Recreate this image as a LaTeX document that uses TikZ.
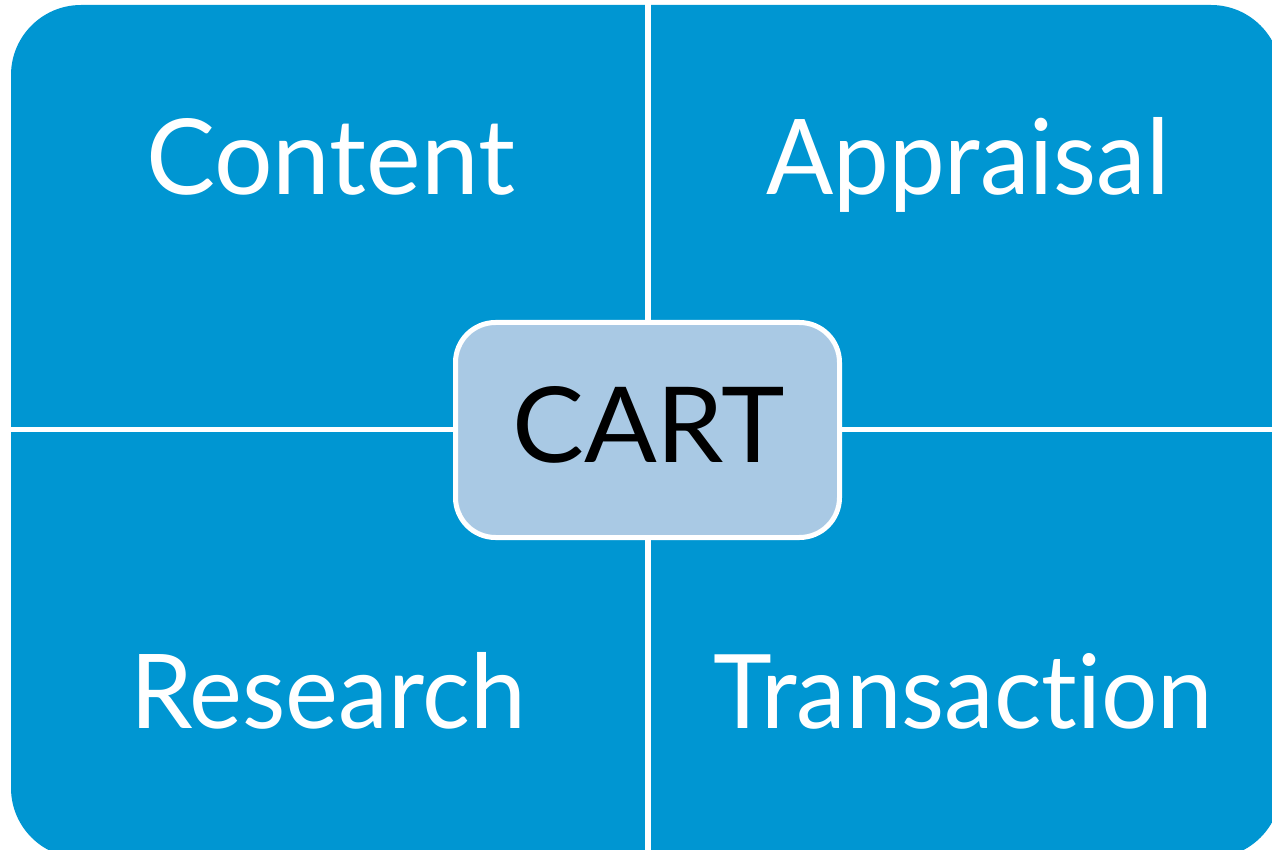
\documentclass[tikz,border=0pt]{standalone}
\usepackage{fontspec}
\setmainfont[Ligatures={NoCommon}]{Lato}
\definecolor{quadblue}{RGB}{0,150,210}
\definecolor{cartfill}{RGB}{169,201,228}
\tikzset{
  quadlabel/.style={anchor=base west, inner sep=0pt, text=white},
  cartbox/.style={draw=white, line width=5pt, fill=cartfill, rounded corners=40pt},
  gapline/.style={draw=white}
}
\begin{document}
\begin{tikzpicture}[x=1pt, y=-1pt]
  \useasboundingbox (0,0) rectangle (1272,850);
  \clip (0,0) rectangle (1272,850);
  \fill[quadblue, rounded corners=70pt] (11,5) rectangle (1281,858);
  \coordinate (vt) at (648,0);
  \coordinate (vb) at (648,850);
  \coordinate (hl) at (0,429.5);
  \coordinate (hr) at (1272,429.5);
  \draw[gapline, line width=6pt] (vt) -- (vb);
  \draw[gapline, line width=5pt] (hl) -- (hr);
  \draw[cartbox] (455.5,322.5) rectangle (839.5,537.5);
  \node[quadlabel] (content) at (146,195) {\resizebox{369pt}{76pt}{Content}};
  \node[quadlabel] (appraisal) at (766,195) {\resizebox{403pt}{77pt}{Appraisal}};
  \node[quadlabel] (research) at (130,728) {\resizebox{396pt}{76pt}{Research}};
  \node[quadlabel] (transaction) at (713,728) {\resizebox{500pt}{75pt}{Transa{}c{}t{}ion}};
  \node[quadlabel, text=black] (cart) at (512,462) {\resizebox{273pt}{76pt}{CART}};
\end{tikzpicture}
\end{document}
